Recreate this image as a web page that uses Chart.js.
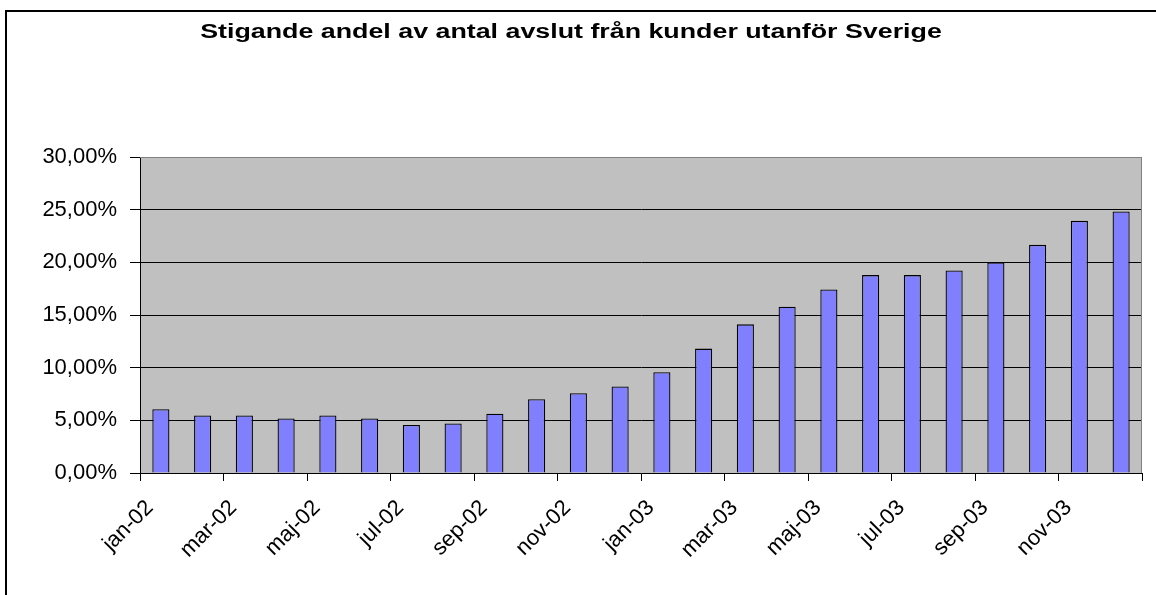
<!DOCTYPE html>
<html>
<head>
<meta charset="utf-8">
<script src="https://cdn.jsdelivr.net/npm/chart.js@4.4.1/dist/chart.umd.min.js"></script>
<style>
  html, body { margin: 0; padding: 0; background: #fff; }
  #wrap { position: relative; width: 1156px; height: 595px; overflow: hidden; }
  #frame { position: absolute; left: 5px; top: 10px; width: 2000px; height: 2000px;
           border-left: 2px solid #000; border-top: 2px solid #000; }
  #chart { position: absolute; left: 0; top: 0; }
</style>
</head>
<body>
<div id="wrap">
  <div id="frame"></div>
  <canvas id="chart" width="1156" height="595"></canvas>
</div>
<script>
// månader, jan-02 .. dec-03
const months = ['jan-02', 'feb-02', 'mar-02', 'apr-02', 'maj-02', 'jun-02', 'jul-02', 'aug-02',
                'sep-02', 'okt-02', 'nov-02', 'dec-02', 'jan-03', 'feb-03', 'mar-03', 'apr-03',
                'maj-03', 'jun-03', 'jul-03', 'aug-03', 'sep-03', 'okt-03', 'nov-03', 'dec-03'];

// andel avslut från kunder utanför Sverige (%)
const shareAbroad = [6.06, 5.46, 5.46, 5.18, 5.46, 5.18, 4.55, 4.70, 5.62, 7.01, 7.58, 8.21,
                     9.57, 11.81, 14.11, 15.79, 17.43, 18.79, 18.79, 19.23, 19.99, 21.66, 23.94, 24.82];

const yTicks = [0, 5, 10, 15, 20, 25, 30];

const titleText = 'Stigande andel av antal avslut från kunder utanför Sverige';

const FONT = 'Liberation Sans, Arial, sans-serif';

// grå plotyta + grå ram upptill och till höger
const plotArea = {
    id: 'plotArea',
    beforeDraw(chart) {
        const { ctx, chartArea: a } = chart;
        ctx.save();
        ctx.fillStyle = '#c0c0c0';
        ctx.fillRect(a.left, a.top, a.right - a.left, a.bottom - a.top);
        ctx.restore();
    },
    afterDatasetsDraw(chart) {
        const { ctx, chartArea: a } = chart;
        ctx.save();
        ctx.strokeStyle = '#808080';
        ctx.lineWidth = 1;
        ctx.beginPath();
        ctx.moveTo(a.left, a.top + 0.5);
        ctx.lineTo(a.right - 0.5, a.top + 0.5);
        ctx.lineTo(a.right - 0.5, a.bottom);
        ctx.stroke();
        ctx.restore();
    }
};

// rubriken är lite utdragen på bredden (som i Excel)
const wideTitle = {
    id: 'wideTitle',
    afterDraw(chart) {
        const ctx = chart.ctx;
        ctx.save();
        ctx.font = 'bold 20px ' + FONT;
        ctx.fillStyle = '#000';
        ctx.textAlign = 'center';
        ctx.textBaseline = 'middle';
        ctx.translate(571, 32);
        ctx.scale(1.34, 1);
        ctx.fillText(titleText, 0, 0);
        ctx.restore();
    }
};

const ctx = document.getElementById('chart').getContext('2d');
new Chart(ctx, {
    type: 'bar',
    data: {
        labels: months,
        datasets: [{
            data: shareAbroad,
            backgroundColor: '#8080ff',
            borderColor: '#000',
            borderWidth: 1.3,
            barPercentage: 0.41,
            categoryPercentage: 1.0
        }]
    },
    options: {
        responsive: false,
        animation: false,
        layout: { padding: { left: 0, right: 14, top: 157, bottom: 0 } },
        plugins: {
            legend: { display: false },
            tooltip: { enabled: false },
            title: { display: false }
        },
        scales: {
            x: {
                afterFit: (scale) => { scale.height = 122; },
                grid: {
                    offset: true,
                    drawOnChartArea: false,
                    tickLength: 8,
                    color: (c) => (c.index === undefined || c.index % 2 === 0) ? '#000' : 'rgba(0,0,0,0)'
                },
                border: { color: '#000', width: 1 },
                ticks: {
                    autoSkip: false,
                    maxRotation: 45,
                    minRotation: 45,
                    padding: 14,
                    labelOffset: -11,
                    color: '#000',
                    font: { family: FONT, size: 22 },
                    callback: function (val, i) { return i % 2 === 0 ? this.getLabelForValue(val) : ''; }
                }
            },
            y: {
                min: 0,
                max: 30,
                afterFit: (scale) => { scale.width = 140; },
                afterBuildTicks: (scale) => { scale.ticks = yTicks.map(v => ({ value: v })); },
                grid: {
                    color: (c) => c.tick && c.tick.value === 30 ? '#808080' : '#000',
                    tickColor: '#000',
                    tickLength: 10
                },
                border: { color: '#000', width: 1 },
                ticks: {
                    padding: 13,
                    color: '#000',
                    font: { family: FONT, size: 22 },
                    callback: (v) => v.toFixed(2).replace('.', ',') + '%'
                }
            }
        }
    },
    plugins: [plotArea, wideTitle]
});
</script>
</body>
</html>
